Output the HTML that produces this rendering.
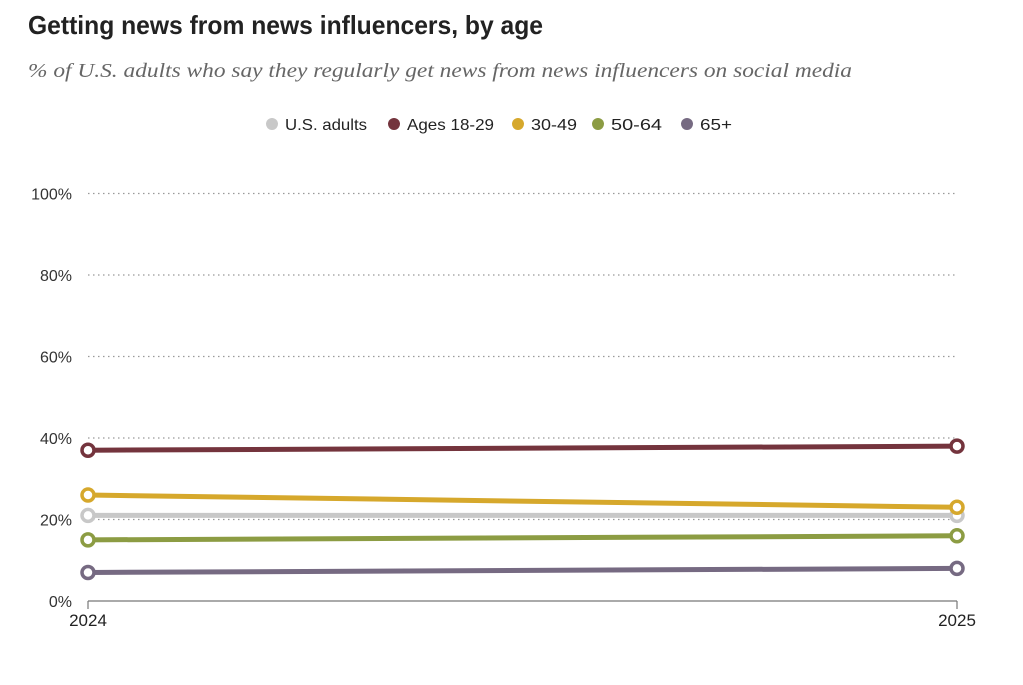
<!DOCTYPE html>
<html><head><meta charset="utf-8"><style>
body{margin:0;background:#fff;width:1023px;height:685px;overflow:hidden}
svg{display:block}
</style></head><body>
<svg id="chart" width="1023" height="685">
<text x="28" y="34" font-family="'Liberation Sans Narrow','Liberation Sans',sans-serif" font-weight="bold" font-size="26" fill="#222" textLength="515" lengthAdjust="spacingAndGlyphs">Getting news from news influencers, by age</text>
<text x="28" y="77" font-family="'Liberation Serif',serif" font-style="italic" font-size="20" fill="#666" textLength="824" lengthAdjust="spacingAndGlyphs">% of U.S. adults who say they regularly get news from news influencers on social media</text>
<g id="legend"></g>
<g id="grid"></g>
<g id="series"></g>
</svg>
<script>
const years = ["2024","2025"];
const seriesNames = ["U.S. adults","Ages 18-29","30-49","50-64","65+"];
const usAdults = [21,21];
const ages1829 = [37,38];
const ages3049 = [26,23];
const ages5064 = [15,16];
const ages65 = [7,8];
const yTicks = [0,20,40,60,80,100];
const tickLabels = ["0%","20%","40%","60%","80%","100%"];

const NS="http://www.w3.org/2000/svg";
const colors=["#c8c8c8","#74343d","#d6a82c","#8c9c43","#766a82"];
const allSeries=[usAdults,ages1829,ages3049,ages5064,ages65];
const x0=88,x1=957,yBase=601,pxPer=4.075;
function xs(i){return x0+(x1-x0)*i/(years.length-1);}
function ys(v){return yBase-v*pxPer;}
function mk(tag,attrs,parent){const e=document.createElementNS(NS,tag);for(const k in attrs)e.setAttribute(k,attrs[k]);parent.appendChild(e);return e;}
const grid=document.getElementById('grid');
yTicks.forEach((t,i)=>{
  if(t>0){const l=mk('line',{x1:x0,x2:x1,y1:ys(t),y2:ys(t),stroke:'#999','stroke-width':1.2,'stroke-dasharray':'1.5,3.5'},grid);
  
  }
  const tx=mk('text',{x:72,y:ys(t)+6,'text-anchor':'end','font-family':'Liberation Sans,sans-serif','font-size':16,fill:'#333'},grid);
  tx.textContent=tickLabels[i];
  
  
});
const ax=mk('line',{x1:x0,x2:x1,y1:yBase,y2:yBase,stroke:'#777','stroke-width':1.2},grid);


years.forEach((y,i)=>{
  const tk=mk('line',{x1:xs(i),x2:xs(i),y1:yBase,y2:yBase+8,stroke:'#777','stroke-width':1.2},grid);
  
  
  const tx=mk('text',{x:xs(i),y:626,'text-anchor':'middle','font-family':'Liberation Sans,sans-serif','font-size':17,fill:'#222'},grid);
  tx.textContent=y;
  
  
});
const sg=document.getElementById('series');
allSeries.forEach((s,k)=>{
  const pts=s.map((v,i)=>xs(i)+','+ys(v)).join(' ');
  const pl=mk('polyline',{points:pts,fill:'none',stroke:colors[k],'stroke-width':5,'stroke-linecap':'round'},sg);
  
  
  s.forEach((v,i)=>{
    const c=mk('circle',{cx:xs(i),cy:ys(v),r:6,fill:'#fff',stroke:colors[k],'stroke-width':3.5},sg);
    
    
  });
});
const lg=document.getElementById('legend');
const lx=[272,394,518,598,687];
const lw=[82,87,46,51,32];
seriesNames.forEach((n,k)=>{
  const c=mk('circle',{cx:lx[k],cy:124,r:6,fill:colors[k]},lg);
  
  
  const t=mk('text',{x:lx[k]+13,y:130,'font-family':'Liberation Sans,sans-serif','font-size':16,fill:'#222',textLength:lw[k],lengthAdjust:'spacingAndGlyphs'},lg);
  t.textContent=n;
  
  
});
</script>
</body></html>
